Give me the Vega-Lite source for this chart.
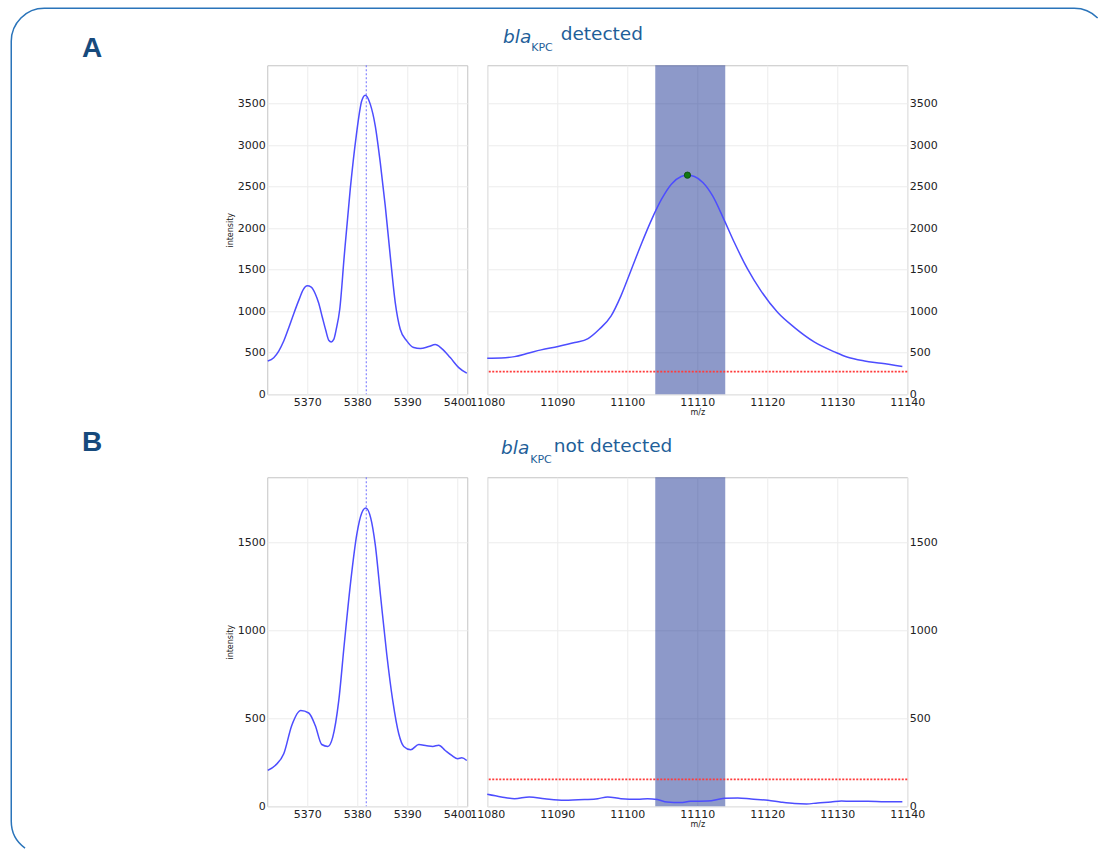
{
  "$schema": "https://vega.github.io/schema/vega-lite/v6.json",
  "background": "white",
  "padding": {"left": 9.25, "top": 6.25, "right": 0, "bottom": 0},
  "config": {
    "view": {"stroke": "#c4c4c4", "strokeWidth": 1},
    "axis": {
      "labelFont": "DejaVu Sans", "labelFontSize": 11, "labelColor": "#222222",
      "ticks": false, "domain": false, "grid": true, "gridColor": "#ececec", "gridWidth": 1,
      "labelFlush": false, "labelOverlap": false, "labelPadding": 2, "format": "d",
      "titleFont": "DejaVu Sans", "titleFontSize": 8, "titleFontWeight": "normal", "titleColor": "#222222"
    },
    "title": {"font": "DejaVu Sans", "fontWeight": "normal", "color": "#1f5f99", "fontSize": 18.5}
  },
  "title": {"text": "A", "subtitle": "B", "anchor": "start", "frame": "bounds", "dx": 72, "offset": -450,
    "font": "Liberation Sans", "fontSize": 28, "fontWeight": "bold", "color": "#174a7c",
    "subtitleFont": "Liberation Sans", "subtitleFontSize": 28, "subtitleFontWeight": "bold", "subtitleColor": "#174a7c", "subtitlePadding": 366},
  "datasets": {
    "leftA": [
      {"mz": 5362.1, "intensity": 401}, {"mz": 5363.3, "intensity": 440}, {"mz": 5364.3, "intensity": 520},
      {"mz": 5365.3, "intensity": 640}, {"mz": 5366.3, "intensity": 800}, {"mz": 5367.3, "intensity": 970},
      {"mz": 5368.3, "intensity": 1130}, {"mz": 5369.2, "intensity": 1260}, {"mz": 5370.0, "intensity": 1305},
      {"mz": 5370.8, "intensity": 1290}, {"mz": 5371.6, "intensity": 1210}, {"mz": 5372.3, "intensity": 1095},
      {"mz": 5373.0, "intensity": 930}, {"mz": 5373.7, "intensity": 770}, {"mz": 5374.3, "intensity": 650},
      {"mz": 5374.8, "intensity": 630}, {"mz": 5375.3, "intensity": 660}, {"mz": 5375.8, "intensity": 783},
      {"mz": 5376.5, "intensity": 1023}, {"mz": 5377.4, "intensity": 1665},
      {"mz": 5378.6, "intensity": 2469}, {"mz": 5379.8, "intensity": 3111}, {"mz": 5380.9, "intensity": 3532},
      {"mz": 5381.6, "intensity": 3600}, {"mz": 5382.6, "intensity": 3492}, {"mz": 5383.6, "intensity": 3231},
      {"mz": 5384.6, "intensity": 2790}, {"mz": 5385.6, "intensity": 2268}, {"mz": 5386.6, "intensity": 1665},
      {"mz": 5387.6, "intensity": 1104}, {"mz": 5388.6, "intensity": 783}, {"mz": 5389.9, "intensity": 642},
      {"mz": 5391.3, "intensity": 562}, {"mz": 5392.6, "intensity": 550}, {"mz": 5394.3, "intensity": 574},
      {"mz": 5395.6, "intensity": 598}, {"mz": 5396.9, "intensity": 550}, {"mz": 5398.6, "intensity": 441},
      {"mz": 5400.3, "intensity": 321}, {"mz": 5401.9, "intensity": 253}
    ],
    "rightA": [
      {"mz": 11080, "intensity": 433}, {"mz": 11082, "intensity": 435}, {"mz": 11083.9, "intensity": 453},
      {"mz": 11085.8, "intensity": 493}, {"mz": 11087.7, "intensity": 534}, {"mz": 11090.1, "intensity": 574},
      {"mz": 11092.5, "intensity": 622}, {"mz": 11094.4, "intensity": 670}, {"mz": 11096.0, "intensity": 782},
      {"mz": 11097.7, "intensity": 943}, {"mz": 11099.1, "intensity": 1184}, {"mz": 11100.6, "intensity": 1505},
      {"mz": 11102.0, "intensity": 1806}, {"mz": 11103.4, "intensity": 2087}, {"mz": 11104.9, "intensity": 2348},
      {"mz": 11106.3, "intensity": 2529}, {"mz": 11107.7, "intensity": 2621}, {"mz": 11108.6, "intensity": 2637},
      {"mz": 11109.6, "intensity": 2621}, {"mz": 11110.8, "intensity": 2549}, {"mz": 11112.2, "intensity": 2388},
      {"mz": 11113.9, "intensity": 2087}, {"mz": 11115.3, "intensity": 1826}, {"mz": 11117.2, "intensity": 1505},
      {"mz": 11119.1, "intensity": 1244}, {"mz": 11121.5, "intensity": 983}, {"mz": 11123.9, "intensity": 802},
      {"mz": 11126.7, "intensity": 630}, {"mz": 11129.6, "intensity": 510}, {"mz": 11131.5, "intensity": 445},
      {"mz": 11133.9, "intensity": 401}, {"mz": 11136.3, "intensity": 373}, {"mz": 11139.3, "intensity": 333}
    ],
    "leftB": [
      {"mz": 5362.1, "intensity": 204}, {"mz": 5363.6, "intensity": 232}, {"mz": 5365.3, "intensity": 298},
      {"mz": 5366.9, "intensity": 459}, {"mz": 5368.7, "intensity": 544}, {"mz": 5370.3, "intensity": 530},
      {"mz": 5371.6, "intensity": 459}, {"mz": 5372.9, "intensity": 351}, {"mz": 5374.1, "intensity": 340},
      {"mz": 5375.1, "intensity": 393}, {"mz": 5376.3, "intensity": 600}, {"mz": 5377.4, "intensity": 921},
      {"mz": 5378.7, "intensity": 1280}, {"mz": 5379.9, "intensity": 1544}, {"mz": 5380.9, "intensity": 1667},
      {"mz": 5381.7, "intensity": 1695}, {"mz": 5382.7, "intensity": 1638}, {"mz": 5383.6, "intensity": 1487},
      {"mz": 5384.7, "intensity": 1185}, {"mz": 5385.9, "intensity": 864}, {"mz": 5387.1, "intensity": 600},
      {"mz": 5388.3, "intensity": 412}, {"mz": 5389.3, "intensity": 340}, {"mz": 5390.7, "intensity": 321},
      {"mz": 5392.3, "intensity": 351}, {"mz": 5393.9, "intensity": 344}, {"mz": 5395.1, "intensity": 340},
      {"mz": 5396.3, "intensity": 347}, {"mz": 5397.6, "intensity": 317}, {"mz": 5398.9, "intensity": 289},
      {"mz": 5400.1, "intensity": 270}, {"mz": 5400.9, "intensity": 275}, {"mz": 5401.9, "intensity": 260}
    ],
    "rightB": [
      {"mz": 11080, "intensity": 68}, {"mz": 11082, "intensity": 53}, {"mz": 11083.9, "intensity": 43},
      {"mz": 11086.0, "intensity": 53}, {"mz": 11088.2, "intensity": 43}, {"mz": 11091.0, "intensity": 34},
      {"mz": 11093.9, "intensity": 38}, {"mz": 11095.8, "intensity": 43}, {"mz": 11097.2, "intensity": 53},
      {"mz": 11099.1, "intensity": 43}, {"mz": 11101.5, "intensity": 40}, {"mz": 11102.9, "intensity": 43},
      {"mz": 11104.3, "intensity": 38}, {"mz": 11105.7, "intensity": 24}, {"mz": 11107.6, "intensity": 21},
      {"mz": 11109.0, "intensity": 28}, {"mz": 11111.5, "intensity": 30}, {"mz": 11113.9, "intensity": 45},
      {"mz": 11115.8, "intensity": 47}, {"mz": 11117.7, "intensity": 41}, {"mz": 11120.1, "intensity": 34},
      {"mz": 11122.0, "intensity": 23}, {"mz": 11123.9, "intensity": 15}, {"mz": 11125.6, "intensity": 13},
      {"mz": 11127.2, "intensity": 19}, {"mz": 11129.1, "intensity": 24}, {"mz": 11130.6, "intensity": 30},
      {"mz": 11132.0, "intensity": 28}, {"mz": 11134.4, "intensity": 28}, {"mz": 11136.8, "intensity": 26},
      {"mz": 11139.3, "intensity": 26}
    ]
  },
  "bounds": "flush",
  "columns": 2,
  "spacing": {"row": 83, "column": 20},
  "concat": [
    {
      "width": 200, "height": 329,
      "title": {"text": "bla", "anchor": "end", "frame": "group", "fontStyle": "italic", "dx": 64, "offset": -38.5},
      "layer": [
        {
          "data": {"values": [{"panel": "frame"}]},
          "mark": {"type": "rect", "filled": false, "color": "#2a74ba", "strokeWidth": 1.5, "cornerRadius": 33, "strokeDash": [1056, 1908, 900, 10]},
          "encoding": {
            "x": {"datum": 5310.8, "type": "quantitative", "scale": {"domain": [5362, 5402], "nice": false, "zero": false}, "axis": {"values": [5370, 5380, 5390, 5400], "title": null}},
            "x2": {"datum": 5530},
            "y": {"datum": 4646, "type": "quantitative", "scale": {"domain": [0, 3960], "nice": false}, "axis": {"values": [0, 500, 1000, 1500, 2000, 2500, 3000, 3500], "title": "intensity", "titlePadding": 3}},
            "y2": {"datum": -5537}
          }
        },
        {
          "data": {"name": "leftA"},
          "mark": {"type": "line", "color": "#4d4dff", "strokeWidth": 1.5, "interpolate": "monotone"},
          "encoding": {
            "x": {"field": "mz", "type": "quantitative", "scale": {"domain": [5362, 5402], "nice": false, "zero": false}, "axis": {"values": [5370, 5380, 5390, 5400], "title": null}},
            "y": {"field": "intensity", "type": "quantitative", "scale": {"domain": [0, 3960], "nice": false}, "axis": {"values": [0, 500, 1000, 1500, 2000, 2500, 3000, 3500], "title": "intensity", "titlePadding": 3}}
          }
        },
        {
          "data": {"values": [{"mz": 5381.8}]},
          "mark": {"type": "rule", "color": "#6e6eff", "strokeWidth": 1, "strokeDash": [2, 2]},
          "encoding": {
            "x": {"field": "mz", "type": "quantitative", "scale": {"domain": [5362, 5402], "nice": false, "zero": false}, "axis": {"values": [5370, 5380, 5390, 5400], "title": null}}
          }
        }
      ]
    },
    {
      "width": 420, "height": 329,
      "title": {"text": "\u200b\u00a0\u00a0\u00a0\u00a0\u00a0detected", "subtitle": "KPC", "anchor": "start", "frame": "group", "dx": 44, "offset": 12, "subtitleFont": "DejaVu Sans", "subtitleFontSize": 11, "subtitleColor": "#1f5f99", "subtitlePadding": -1.5},
      "layer": [
        {
          "data": {"values": [{"mz": 11104, "mz2": 11114}]},
          "mark": {"type": "rect", "color": "#102a8f", "opacity": 0.48},
          "encoding": {
            "x": {"field": "mz", "type": "quantitative", "scale": {"domain": [11080, 11140], "nice": false, "zero": false}, "axis": {"values": [11080, 11090, 11100, 11110, 11120, 11130, 11140], "title": "m/z", "titlePadding": 1}},
            "x2": {"field": "mz2"}
          }
        },
        {
          "data": {"name": "rightA"},
          "mark": {"type": "line", "color": "#4d4dff", "strokeWidth": 1.5, "interpolate": "monotone"},
          "encoding": {
            "x": {"field": "mz", "type": "quantitative", "scale": {"domain": [11080, 11140], "nice": false, "zero": false}, "axis": {"values": [11080, 11090, 11100, 11110, 11120, 11130, 11140], "title": "m/z", "titlePadding": 1}},
            "y": {"field": "intensity", "type": "quantitative", "scale": {"domain": [0, 3960], "nice": false}, "axis": {"orient": "right", "values": [0, 500, 1000, 1500, 2000, 2500, 3000, 3500], "title": null}}
          }
        },
        {
          "data": {"values": [{"intensity": 272}]},
          "mark": {"type": "rule", "color": "#ff3b3b", "strokeWidth": 1.6, "strokeDash": [2, 1.5]},
          "encoding": {
            "y": {"field": "intensity", "type": "quantitative", "scale": {"domain": [0, 3960], "nice": false}, "axis": {"orient": "right", "values": [0, 500, 1000, 1500, 2000, 2500, 3000, 3500], "title": null}}
          }
        },
        {
          "data": {"values": [{"mz": 11108.6, "intensity": 2637}]},
          "mark": {"type": "point", "filled": true, "color": "#117711", "size": 40, "opacity": 1, "stroke": "#0a4a0a", "strokeWidth": 0.8},
          "encoding": {
            "x": {"field": "mz", "type": "quantitative", "scale": {"domain": [11080, 11140], "nice": false, "zero": false}, "axis": {"values": [11080, 11090, 11100, 11110, 11120, 11130, 11140], "title": "m/z", "titlePadding": 1}},
            "y": {"field": "intensity", "type": "quantitative", "scale": {"domain": [0, 3960], "nice": false}, "axis": {"orient": "right", "values": [0, 500, 1000, 1500, 2000, 2500, 3000, 3500], "title": null}}
          }
        }
      ]
    },
    {
      "width": 200, "height": 329,
      "title": {"text": "bla", "anchor": "end", "frame": "group", "fontStyle": "italic", "dx": 62, "offset": 19.3},
      "layer": [
        {
          "data": {"name": "leftB"},
          "mark": {"type": "line", "color": "#4d4dff", "strokeWidth": 1.5, "interpolate": "monotone"},
          "encoding": {
            "x": {"field": "mz", "type": "quantitative", "scale": {"domain": [5362, 5402], "nice": false, "zero": false}, "axis": {"values": [5370, 5380, 5390, 5400], "title": null}},
            "y": {"field": "intensity", "type": "quantitative", "scale": {"domain": [0, 1870], "nice": false}, "axis": {"values": [0, 500, 1000, 1500], "title": "intensity", "titlePadding": 3}}
          }
        },
        {
          "data": {"values": [{"mz": 5381.8}]},
          "mark": {"type": "rule", "color": "#6e6eff", "strokeWidth": 1, "strokeDash": [2, 2]},
          "encoding": {
            "x": {"field": "mz", "type": "quantitative", "scale": {"domain": [5362, 5402], "nice": false, "zero": false}, "axis": {"values": [5370, 5380, 5390, 5400], "title": null}}
          }
        }
      ]
    },
    {
      "width": 420, "height": 329,
      "title": {"text": "\u200b\u00a0\u00a0\u00a0\u00a0not detected", "subtitle": "KPC", "anchor": "start", "frame": "group", "dx": 43, "offset": 12, "subtitleFont": "DejaVu Sans", "subtitleFontSize": 11, "subtitleColor": "#1f5f99", "subtitlePadding": -1.5},
      "layer": [
        {
          "data": {"values": [{"mz": 11104, "mz2": 11114}]},
          "mark": {"type": "rect", "color": "#102a8f", "opacity": 0.48},
          "encoding": {
            "x": {"field": "mz", "type": "quantitative", "scale": {"domain": [11080, 11140], "nice": false, "zero": false}, "axis": {"values": [11080, 11090, 11100, 11110, 11120, 11130, 11140], "title": "m/z", "titlePadding": 1}},
            "x2": {"field": "mz2"}
          }
        },
        {
          "data": {"name": "rightB"},
          "mark": {"type": "line", "color": "#4d4dff", "strokeWidth": 1.5, "interpolate": "monotone"},
          "encoding": {
            "x": {"field": "mz", "type": "quantitative", "scale": {"domain": [11080, 11140], "nice": false, "zero": false}, "axis": {"values": [11080, 11090, 11100, 11110, 11120, 11130, 11140], "title": "m/z", "titlePadding": 1}},
            "y": {"field": "intensity", "type": "quantitative", "scale": {"domain": [0, 1870], "nice": false}, "axis": {"orient": "right", "values": [0, 500, 1000, 1500], "title": null}}
          }
        },
        {
          "data": {"values": [{"intensity": 153}]},
          "mark": {"type": "rule", "color": "#ff3b3b", "strokeWidth": 1.6, "strokeDash": [2, 1.5]},
          "encoding": {
            "y": {"field": "intensity", "type": "quantitative", "scale": {"domain": [0, 1870], "nice": false}, "axis": {"orient": "right", "values": [0, 500, 1000, 1500], "title": null}}
          }
        }
      ]
    }
  ]
}
